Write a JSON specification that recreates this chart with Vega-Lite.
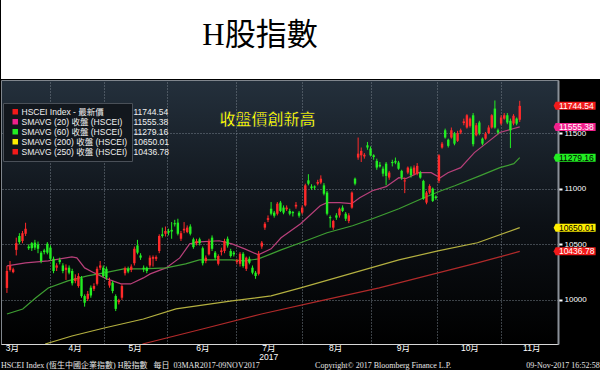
{
  "$schema": "https://vega.github.io/schema/vega-lite/v6.json",
  "background": "#000000",
  "padding": 0,
  "spacing": 0,
  "datasets": {
    "candles": [
      {"i":0,"o":10108,"c":10261,"h":10306,"l":10063},
      {"i":1,"o":10270,"c":10310,"h":10350,"l":10255},
      {"i":2,"o":10250,"c":10275,"h":10290,"l":10240},
      {"i":3,"o":10450,"c":10510,"h":10560,"l":10400},
      {"i":4,"o":10575,"c":10520,"h":10600,"l":10500},
      {"i":5,"o":10530,"c":10600,"h":10620,"l":10510},
      {"i":6,"o":10595,"c":10640,"h":10694,"l":10575},
      {"i":7,"o":10480,"c":10465,"h":10500,"l":10450},
      {"i":8,"o":10510,"c":10465,"h":10520,"l":10440},
      {"i":9,"o":10515,"c":10470,"h":10540,"l":10450},
      {"i":10,"o":10500,"c":10460,"h":10525,"l":10420},
      {"i":11,"o":10425,"c":10350,"h":10440,"l":10330},
      {"i":12,"o":10445,"c":10430,"h":10460,"l":10410},
      {"i":13,"o":10505,"c":10425,"h":10520,"l":10410},
      {"i":14,"o":10470,"c":10370,"h":10490,"l":10350},
      {"i":15,"o":10370,"c":10260,"h":10390,"l":10240},
      {"i":16,"o":10290,"c":10310,"h":10330,"l":10260},
      {"i":17,"o":10360,"c":10340,"h":10380,"l":10320},
      {"i":18,"o":10310,"c":10260,"h":10330,"l":10240},
      {"i":19,"o":10270,"c":10290,"h":10320,"l":10180},
      {"i":20,"o":10290,"c":10245,"h":10310,"l":10230},
      {"i":21,"o":10260,"c":10150,"h":10280,"l":10130},
      {"i":22,"o":10170,"c":10195,"h":10230,"l":10150},
      {"i":23,"o":10125,"c":10215,"h":10240,"l":10110},
      {"i":24,"o":10195,"c":10035,"h":10215,"l":10020},
      {"i":25,"o":10035,"c":9975,"h":10050,"l":9940},
      {"i":26,"o":10010,"c":10055,"h":10080,"l":9990},
      {"i":27,"o":10110,"c":10040,"h":10130,"l":10020},
      {"i":28,"o":10100,"c":10125,"h":10150,"l":10080},
      {"i":29,"o":10145,"c":10280,"h":10300,"l":10130},
      {"i":30,"o":10290,"c":10310,"h":10350,"l":10270},
      {"i":31,"o":10290,"c":10215,"h":10310,"l":10200},
      {"i":32,"o":10280,"c":10200,"h":10300,"l":10180},
      {"i":33,"o":10130,"c":10170,"h":10200,"l":10110},
      {"i":34,"o":10155,"c":10080,"h":10170,"l":10060},
      {"i":35,"o":10035,"c":9920,"h":10050,"l":9900},
      {"i":36,"o":9980,"c":9995,"h":10010,"l":9960},
      {"i":37,"o":10020,"c":10125,"h":10140,"l":10000},
      {"i":38,"o":10240,"c":10285,"h":10300,"l":10220},
      {"i":39,"o":10280,"c":10255,"h":10300,"l":10240},
      {"i":40,"o":10270,"c":10300,"h":10320,"l":10250},
      {"i":41,"o":10330,"c":10460,"h":10480,"l":10310},
      {"i":42,"o":10490,"c":10425,"h":10540,"l":10410},
      {"i":43,"o":10400,"c":10380,"h":10420,"l":10360},
      {"i":44,"o":10290,"c":10275,"h":10310,"l":10250},
      {"i":45,"o":10290,"c":10260,"h":10300,"l":10240},
      {"i":46,"o":10310,"c":10380,"h":10400,"l":10290},
      {"i":47,"o":10370,"c":10385,"h":10400,"l":10300},
      {"i":48,"o":10370,"c":10385,"h":10400,"l":10350},
      {"i":49,"o":10440,"c":10575,"h":10590,"l":10420},
      {"i":50,"o":10590,"c":10575,"h":10650,"l":10560},
      {"i":51,"o":10595,"c":10620,"h":10660,"l":10570},
      {"i":52,"o":10620,"c":10605,"h":10640,"l":10580},
      {"i":53,"o":10630,"c":10615,"h":10700,"l":10550},
      {"i":54,"o":10690,"c":10680,"h":10720,"l":10660},
      {"i":55,"o":10695,"c":10595,"h":10730,"l":10580},
      {"i":56,"o":10550,"c":10600,"h":10620,"l":10530},
      {"i":57,"o":10625,"c":10640,"h":10700,"l":10600},
      {"i":58,"o":10610,"c":10650,"h":10670,"l":10600},
      {"i":59,"o":10660,"c":10595,"h":10680,"l":10580},
      {"i":60,"o":10545,"c":10475,"h":10560,"l":10460},
      {"i":61,"o":10510,"c":10530,"h":10550,"l":10490},
      {"i":62,"o":10545,"c":10510,"h":10560,"l":10490},
      {"i":63,"o":10465,"c":10330,"h":10480,"l":10310},
      {"i":64,"o":10350,"c":10380,"h":10400,"l":10330},
      {"i":65,"o":10410,"c":10530,"h":10550,"l":10400},
      {"i":66,"o":10560,"c":10460,"h":10580,"l":10440},
      {"i":67,"o":10425,"c":10380,"h":10440,"l":10360},
      {"i":68,"o":10325,"c":10395,"h":10410,"l":10310},
      {"i":69,"o":10430,"c":10445,"h":10470,"l":10400},
      {"i":70,"o":10440,"c":10530,"h":10550,"l":10420},
      {"i":71,"o":10550,"c":10490,"h":10570,"l":10470},
      {"i":72,"o":10440,"c":10395,"h":10460,"l":10380},
      {"i":73,"o":10425,"c":10410,"h":10440,"l":10390},
      {"i":74,"o":10340,"c":10355,"h":10370,"l":10320},
      {"i":75,"o":10325,"c":10415,"h":10430,"l":10300},
      {"i":76,"o":10415,"c":10305,"h":10430,"l":10290},
      {"i":77,"o":10280,"c":10380,"h":10390,"l":10260},
      {"i":78,"o":10370,"c":10335,"h":10390,"l":10320},
      {"i":79,"o":10290,"c":10245,"h":10310,"l":10230},
      {"i":80,"o":10245,"c":10215,"h":10260,"l":10190},
      {"i":81,"o":10235,"c":10415,"h":10440,"l":10220},
      {"i":82,"o":10480,"c":10515,"h":10530,"l":10460},
      {"i":83,"o":10650,"c":10685,"h":10700,"l":10630},
      {"i":84,"o":10720,"c":10735,"h":10760,"l":10700},
      {"i":85,"o":10820,"c":10775,"h":10880,"l":10760},
      {"i":86,"o":10785,"c":10757,"h":10800,"l":10740},
      {"i":87,"o":10775,"c":10865,"h":10880,"l":10760},
      {"i":88,"o":10875,"c":10800,"h":10890,"l":10790},
      {"i":89,"o":10830,"c":10785,"h":10850,"l":10770},
      {"i":90,"o":10815,"c":10830,"h":10850,"l":10800},
      {"i":91,"o":10800,"c":10775,"h":10820,"l":10760},
      {"i":92,"o":10790,"c":10780,"h":10800,"l":10750},
      {"i":93,"o":10840,"c":10855,"h":10880,"l":10820},
      {"i":94,"o":10785,"c":10757,"h":10800,"l":10740},
      {"i":95,"o":10785,"c":10830,"h":10850,"l":10770},
      {"i":96,"o":10850,"c":11030,"h":11045,"l":10840},
      {"i":97,"o":11075,"c":11045,"h":11130,"l":11030},
      {"i":98,"o":11020,"c":11005,"h":11040,"l":10990},
      {"i":99,"o":11020,"c":11010,"h":11030,"l":10990},
      {"i":100,"o":11045,"c":11060,"h":11080,"l":11030},
      {"i":101,"o":11055,"c":11090,"h":11120,"l":11040},
      {"i":102,"o":11030,"c":10955,"h":11050,"l":10940},
      {"i":103,"o":10965,"c":10775,"h":10980,"l":10760},
      {"i":104,"o":10745,"c":10735,"h":10760,"l":10650},
      {"i":105,"o":10650,"c":10710,"h":10720,"l":10630},
      {"i":106,"o":10760,"c":10740,"h":10780,"l":10720},
      {"i":107,"o":10760,"c":10820,"h":10830,"l":10740},
      {"i":108,"o":10830,"c":10800,"h":10850,"l":10790},
      {"i":109,"o":10775,"c":10730,"h":10790,"l":10710},
      {"i":110,"o":10710,"c":10760,"h":10780,"l":10690},
      {"i":111,"o":10830,"c":10965,"h":10975,"l":10820},
      {"i":112,"o":11090,"c":11045,"h":11100,"l":11030},
      {"i":113,"o":11280,"c":11315,"h":11460,"l":11260},
      {"i":114,"o":11300,"c":11340,"h":11370,"l":11240},
      {"i":115,"o":11290,"c":11305,"h":11320,"l":11270},
      {"i":116,"o":11390,"c":11370,"h":11420,"l":11350},
      {"i":117,"o":11360,"c":11300,"h":11380,"l":11290},
      {"i":118,"o":11300,"c":11285,"h":11310,"l":11260},
      {"i":119,"o":11250,"c":11190,"h":11270,"l":11170},
      {"i":120,"o":11215,"c":11200,"h":11240,"l":11190},
      {"i":121,"o":11180,"c":11135,"h":11200,"l":11110},
      {"i":122,"o":11225,"c":11115,"h":11240,"l":11030},
      {"i":123,"o":11100,"c":11145,"h":11160,"l":11080},
      {"i":124,"o":11240,"c":11230,"h":11260,"l":11200},
      {"i":125,"o":11250,"c":11235,"h":11280,"l":11220},
      {"i":126,"o":11235,"c":11180,"h":11250,"l":11170},
      {"i":127,"o":11160,"c":11100,"h":11170,"l":11080},
      {"i":128,"o":11065,"c":11075,"h":11100,"l":10960},
      {"i":129,"o":11145,"c":11190,"h":11200,"l":11130},
      {"i":130,"o":11180,"c":11120,"h":11200,"l":11100},
      {"i":131,"o":11135,"c":11190,"h":11210,"l":11120},
      {"i":132,"o":11135,"c":11205,"h":11230,"l":11120},
      {"i":133,"o":11145,"c":11100,"h":11160,"l":11090},
      {"i":134,"o":11070,"c":10910,"h":11080,"l":10900},
      {"i":135,"o":10875,"c":10965,"h":10980,"l":10860},
      {"i":136,"o":10965,"c":11025,"h":11040,"l":10950},
      {"i":137,"o":11000,"c":10890,"h":11010,"l":10880},
      {"i":138,"o":10930,"c":10915,"h":10940,"l":10900},
      {"i":139,"o":11070,"c":11300,"h":11310,"l":11050},
      {"i":140,"o":11370,"c":11405,"h":11420,"l":11360},
      {"i":141,"o":11525,"c":11460,"h":11540,"l":11450},
      {"i":142,"o":11440,"c":11385,"h":11450,"l":11370},
      {"i":143,"o":11460,"c":11525,"h":11550,"l":11450},
      {"i":144,"o":11495,"c":11405,"h":11510,"l":11390},
      {"i":145,"o":11430,"c":11500,"h":11520,"l":11420},
      {"i":146,"o":11505,"c":11525,"h":11540,"l":11490},
      {"i":147,"o":11590,"c":11605,"h":11630,"l":11570},
      {"i":148,"o":11550,"c":11660,"h":11670,"l":11540},
      {"i":149,"o":11565,"c":11630,"h":11640,"l":11550},
      {"i":150,"o":11660,"c":11400,"h":11680,"l":11380},
      {"i":151,"o":11480,"c":11570,"h":11590,"l":11470},
      {"i":152,"o":11595,"c":11495,"h":11610,"l":11480},
      {"i":153,"o":11450,"c":11405,"h":11460,"l":11390},
      {"i":154,"o":11450,"c":11495,"h":11510,"l":11440},
      {"i":155,"o":11500,"c":11550,"h":11570,"l":11490},
      {"i":156,"o":11550,"c":11660,"h":11670,"l":11540},
      {"i":157,"o":11720,"c":11550,"h":11793,"l":11540},
      {"i":158,"o":11525,"c":11505,"h":11540,"l":11490},
      {"i":159,"o":11585,"c":11640,"h":11660,"l":11570},
      {"i":160,"o":11630,"c":11660,"h":11680,"l":11620},
      {"i":161,"o":11660,"c":11595,"h":11680,"l":11580},
      {"i":162,"o":11610,"c":11525,"h":11630,"l":11365},
      {"i":163,"o":11585,"c":11655,"h":11670,"l":11570},
      {"i":164,"o":11630,"c":11585,"h":11640,"l":11570},
      {"i":165,"o":11620,"c":11744.54,"h":11790,"l":11600}
    ],
    "ma": [
      {"s":"SMAVG (20) 收盤 (HSCEI)","i":0,"v":10306},
      {"s":"SMAVG (20) 收盤 (HSCEI)","i":6,"v":10333},
      {"s":"SMAVG (20) 收盤 (HSCEI)","i":13.3,"v":10351},
      {"s":"SMAVG (20) 收盤 (HSCEI)","i":20.9,"v":10387},
      {"s":"SMAVG (20) 收盤 (HSCEI)","i":22.5,"v":10378},
      {"s":"SMAVG (20) 收盤 (HSCEI)","i":25,"v":10288},
      {"s":"SMAVG (20) 收盤 (HSCEI)","i":28.1,"v":10243},
      {"s":"SMAVG (20) 收盤 (HSCEI)","i":32.2,"v":10189},
      {"s":"SMAVG (20) 收盤 (HSCEI)","i":36.7,"v":10144},
      {"s":"SMAVG (20) 收盤 (HSCEI)","i":39.8,"v":10144},
      {"s":"SMAVG (20) 收盤 (HSCEI)","i":43.9,"v":10198},
      {"s":"SMAVG (20) 收盤 (HSCEI)","i":46.1,"v":10234},
      {"s":"SMAVG (20) 收盤 (HSCEI)","i":51.2,"v":10288},
      {"s":"SMAVG (20) 收盤 (HSCEI)","i":55.6,"v":10378},
      {"s":"SMAVG (20) 收盤 (HSCEI)","i":58.8,"v":10504},
      {"s":"SMAVG (20) 收盤 (HSCEI)","i":61.9,"v":10522},
      {"s":"SMAVG (20) 收盤 (HSCEI)","i":68.3,"v":10532},
      {"s":"SMAVG (20) 收盤 (HSCEI)","i":72.4,"v":10504},
      {"s":"SMAVG (20) 收盤 (HSCEI)","i":76.5,"v":10459},
      {"s":"SMAVG (20) 收盤 (HSCEI)","i":80.9,"v":10405},
      {"s":"SMAVG (20) 收盤 (HSCEI)","i":85,"v":10459},
      {"s":"SMAVG (20) 收盤 (HSCEI)","i":88.2,"v":10559},
      {"s":"SMAVG (20) 收盤 (HSCEI)","i":94.5,"v":10685},
      {"s":"SMAVG (20) 收盤 (HSCEI)","i":100.8,"v":10847},
      {"s":"SMAVG (20) 收盤 (HSCEI)","i":103,"v":10874},
      {"s":"SMAVG (20) 收盤 (HSCEI)","i":107.1,"v":10874},
      {"s":"SMAVG (20) 收盤 (HSCEI)","i":110.9,"v":10865},
      {"s":"SMAVG (20) 收盤 (HSCEI)","i":113.5,"v":10919},
      {"s":"SMAVG (20) 收盤 (HSCEI)","i":117.6,"v":10982},
      {"s":"SMAVG (20) 收盤 (HSCEI)","i":122,"v":11018},
      {"s":"SMAVG (20) 收盤 (HSCEI)","i":126.1,"v":11099},
      {"s":"SMAVG (20) 收盤 (HSCEI)","i":128.3,"v":11090},
      {"s":"SMAVG (20) 收盤 (HSCEI)","i":132.4,"v":11144},
      {"s":"SMAVG (20) 收盤 (HSCEI)","i":136.5,"v":11144},
      {"s":"SMAVG (20) 收盤 (HSCEI)","i":139.4,"v":11099},
      {"s":"SMAVG (20) 收盤 (HSCEI)","i":141.9,"v":11144},
      {"s":"SMAVG (20) 收盤 (HSCEI)","i":146,"v":11189},
      {"s":"SMAVG (20) 收盤 (HSCEI)","i":150.4,"v":11324},
      {"s":"SMAVG (20) 收盤 (HSCEI)","i":154.5,"v":11414},
      {"s":"SMAVG (20) 收盤 (HSCEI)","i":158.6,"v":11505},
      {"s":"SMAVG (20) 收盤 (HSCEI)","i":163.1,"v":11541},
      {"s":"SMAVG (20) 收盤 (HSCEI)","i":165,"v":11555.38},
      {"s":"SMAVG (60) 收盤 (HSCEI)","i":0,"v":9874},
      {"s":"SMAVG (60) 收盤 (HSCEI)","i":5.1,"v":9919},
      {"s":"SMAVG (60) 收盤 (HSCEI)","i":9.2,"v":10018},
      {"s":"SMAVG (60) 收盤 (HSCEI)","i":13.3,"v":10108},
      {"s":"SMAVG (60) 收盤 (HSCEI)","i":19.6,"v":10171},
      {"s":"SMAVG (60) 收盤 (HSCEI)","i":25.9,"v":10216},
      {"s":"SMAVG (60) 收盤 (HSCEI)","i":31.3,"v":10243},
      {"s":"SMAVG (60) 收盤 (HSCEI)","i":37.6,"v":10279},
      {"s":"SMAVG (60) 收盤 (HSCEI)","i":43.9,"v":10279},
      {"s":"SMAVG (60) 收盤 (HSCEI)","i":51.2,"v":10288},
      {"s":"SMAVG (60) 收盤 (HSCEI)","i":57.5,"v":10324},
      {"s":"SMAVG (60) 收盤 (HSCEI)","i":61.9,"v":10360},
      {"s":"SMAVG (60) 收盤 (HSCEI)","i":72.4,"v":10360},
      {"s":"SMAVG (60) 收盤 (HSCEI)","i":76.5,"v":10351},
      {"s":"SMAVG (60) 收盤 (HSCEI)","i":80.9,"v":10369},
      {"s":"SMAVG (60) 收盤 (HSCEI)","i":85,"v":10414},
      {"s":"SMAVG (60) 收盤 (HSCEI)","i":88.2,"v":10450},
      {"s":"SMAVG (60) 收盤 (HSCEI)","i":94.5,"v":10514},
      {"s":"SMAVG (60) 收盤 (HSCEI)","i":103,"v":10604},
      {"s":"SMAVG (60) 收盤 (HSCEI)","i":111.2,"v":10667},
      {"s":"SMAVG (60) 收盤 (HSCEI)","i":117.6,"v":10730},
      {"s":"SMAVG (60) 收盤 (HSCEI)","i":126.1,"v":10820},
      {"s":"SMAVG (60) 收盤 (HSCEI)","i":133.4,"v":10910},
      {"s":"SMAVG (60) 收盤 (HSCEI)","i":139.7,"v":10982},
      {"s":"SMAVG (60) 收盤 (HSCEI)","i":144.1,"v":11027},
      {"s":"SMAVG (60) 收盤 (HSCEI)","i":152.3,"v":11117},
      {"s":"SMAVG (60) 收盤 (HSCEI)","i":158.6,"v":11189},
      {"s":"SMAVG (60) 收盤 (HSCEI)","i":163.1,"v":11225},
      {"s":"SMAVG (60) 收盤 (HSCEI)","i":165,"v":11279.16},
      {"s":"SMAVG (200) 收盤 (HSCEI)","i":12.3,"v":9604},
      {"s":"SMAVG (200) 收盤 (HSCEI)","i":20.9,"v":9676},
      {"s":"SMAVG (200) 收盤 (HSCEI)","i":31.3,"v":9748},
      {"s":"SMAVG (200) 收盤 (HSCEI)","i":43.9,"v":9829},
      {"s":"SMAVG (200) 收盤 (HSCEI)","i":54.4,"v":9919},
      {"s":"SMAVG (200) 收盤 (HSCEI)","i":72.4,"v":9991},
      {"s":"SMAVG (200) 收盤 (HSCEI)","i":85,"v":10036},
      {"s":"SMAVG (200) 收盤 (HSCEI)","i":94.5,"v":10108},
      {"s":"SMAVG (200) 收盤 (HSCEI)","i":110.3,"v":10234},
      {"s":"SMAVG (200) 收盤 (HSCEI)","i":126.1,"v":10360},
      {"s":"SMAVG (200) 收盤 (HSCEI)","i":138.7,"v":10441},
      {"s":"SMAVG (200) 收盤 (HSCEI)","i":151.4,"v":10514},
      {"s":"SMAVG (200) 收盤 (HSCEI)","i":165,"v":10650.01},
      {"s":"SMAVG (250) 收盤 (HSCEI)","i":43.6,"v":9604},
      {"s":"SMAVG (250) 收盤 (HSCEI)","i":62.9,"v":9739},
      {"s":"SMAVG (250) 收盤 (HSCEI)","i":81.9,"v":9874},
      {"s":"SMAVG (250) 收盤 (HSCEI)","i":100.8,"v":9991},
      {"s":"SMAVG (250) 收盤 (HSCEI)","i":119.8,"v":10108},
      {"s":"SMAVG (250) 收盤 (HSCEI)","i":138.7,"v":10243},
      {"s":"SMAVG (250) 收盤 (HSCEI)","i":151.4,"v":10333},
      {"s":"SMAVG (250) 收盤 (HSCEI)","i":165,"v":10436.78}
    ],
    "tags": [
      {"s":"HSCEI Index - 最新價","label":"11744.54","v":11744.54},
      {"s":"SMAVG (20) 收盤 (HSCEI)","label":"11555.38","v":11555.38},
      {"s":"SMAVG (60) 收盤 (HSCEI)","label":"11279.16","v":11279.16},
      {"s":"SMAVG (200) 收盤 (HSCEI)","label":"10650.01","v":10650.01},
      {"s":"SMAVG (250) 收盤 (HSCEI)","label":"10436.78","v":10436.78}
    ]
  },
  "vconcat": [
    {
      "width": 600,
      "height": 79,
      "view": {"fill": "#ffffff", "stroke": null},
      "data": {"values": [{"t": "H股指數"}]},
      "mark": {"type": "text", "font": "Liberation Serif, Noto Sans CJK TC", "fontSize": 31, "color": "#000000", "baseline": "middle", "dx": -41, "dy": -4},
      "encoding": {"text": {"field": "t"}}
    },
    {
      "width": 557,
      "height": 264,
      "view": {
        "fill": {"gradient": "linear", "x1": 0, "y1": 0, "x2": 0, "y2": 1,
          "stops": [{"offset": 0, "color": "#24303c"}, {"offset": 0.55, "color": "#0c1015"}, {"offset": 1, "color": "#000000"}]},
        "stroke": "#80868d",
        "strokeWidth": 1
      },
      "resolve": {"axis": {"x": "independent", "y": "independent"}},
      "layer": [
        {
          "data": {"name": "ma"},
          "mark": {"type": "line", "strokeWidth": 1.2, "clip": true},
          "encoding": {
            "x": {"field": "i", "type": "quantitative", "scale": {"domain": [-0.3, 175.7], "nice": false, "zero": false},
              "axis": {"orient": "top", "values": [13.9, 31.3, 51.5, 73.6, 95.1, 117.2, 138.4, 158.9], "grid": true, "labels": false, "ticks": false, "domain": false, "title": null, "gridColor": "#77818b", "gridDash": [1, 2], "gridWidth": 1}},
            "y": {"field": "v", "type": "quantitative", "scale": {"domain": [9604, 11977], "nice": false, "zero": false},
              "axis": {"orient": "right", "values": [10000, 10500, 11000, 11500], "format": "d", "grid": true, "gridColor": "#77818b", "gridDash": [1, 2], "gridWidth": 1, "domainColor": "#8a9098", "domainWidth": 2, "tickColor": "#ffffff", "tickSize": 4, "tickWidth": 2, "labelColor": "#ffffff", "labelFont": "Liberation Sans", "labelFontSize": 8, "labelPadding": 2, "title": null}},
            "stroke": {"field": "s", "type": "nominal",
              "scale": {"domain": ["SMAVG (20) 收盤 (HSCEI)", "SMAVG (60) 收盤 (HSCEI)", "SMAVG (200) 收盤 (HSCEI)", "SMAVG (250) 收盤 (HSCEI)"], "range": ["#b8407a", "#3e9e32", "#b4b040", "#b02a2a"]},
              "legend": null}
          }
        },
        {
          "data": {"name": "candles"},
          "mark": {"type": "rule", "strokeWidth": 1, "clip": true},
          "encoding": {
            "x": {"field": "i", "type": "quantitative", "axis": null},
            "y": {"field": "l", "type": "quantitative", "axis": null},
            "y2": {"field": "h"},
            "color": {"condition": {"test": "datum.c >= datum.o", "value": "#ff2a2a"}, "value": "#22ee22"}
          }
        },
        {
          "data": {"name": "candles"},
          "mark": {"type": "bar", "size": 2.4, "clip": true},
          "encoding": {
            "x": {"field": "i", "type": "quantitative",
              "axis": {"orient": "bottom", "values": [1.6, 21.8, 41.1, 62.9, 84.1, 105.6, 127.4, 148.8, 168.7],
                "labelExpr": "datum.value < 10 ? '3月' : datum.value < 30 ? '4月' : datum.value < 50 ? '5月' : datum.value < 70 ? '6月' : datum.value < 90 ? ['7月', '\u00a0\u00a0\u00a0\u00a0\u00a0\u00a0\u00a0\u00a0\u00a0\u00a02017'] : datum.value < 115 ? '8月' : datum.value < 135 ? '9月' : datum.value < 160 ? '10月' : '11月'",
                "ticks": false, "grid": false, "domainColor": "#d8d8d8", "domainWidth": 1, "labelColor": "#ffffff", "labelFont": "Liberation Sans, Noto Sans CJK TC", "labelFontSize": 8.5, "labelPadding": -1, "labelLineHeight": 9.5, "labelOverlap": false, "labelFlush": false, "labelBound": false, "title": null}},
            "y": {"field": "o", "type": "quantitative", "axis": null},
            "y2": {"field": "c"},
            "color": {"condition": {"test": "datum.c >= datum.o", "value": "#ff2a2a"}, "value": "#22ee22"}
          }
        },
        {
          "data": {"values": [{"t": "收盤價創新高", "i": 83.8, "v": 11613}]},
          "mark": {"type": "text", "font": "Noto Sans CJK TC", "fontWeight": "bold", "fontSize": 16, "color": "#ffff00", "stroke": "#10205a", "strokeWidth": 0.6, "baseline": "middle", "align": "center"},
          "encoding": {
            "x": {"field": "i", "type": "quantitative", "axis": null},
            "y": {"field": "v", "type": "quantitative", "axis": null},
            "text": {"field": "t"}
          }
        },
        {
          "data": {"name": "tags"},
          "mark": {"type": "point", "filled": true, "size": 1600, "opacity": 1, "strokeWidth": 0},
          "encoding": {
            "x": {"datum": 182.97, "type": "quantitative", "axis": null},
            "y": {"field": "v", "type": "quantitative", "axis": null},
            "fill": {"field": "s", "type": "nominal",
              "scale": {"domain": ["HSCEI Index - 最新價", "SMAVG (20) 收盤 (HSCEI)", "SMAVG (60) 收盤 (HSCEI)", "SMAVG (200) 收盤 (HSCEI)", "SMAVG (250) 收盤 (HSCEI)"], "range": ["#f21a1a", "#f0208c", "#22ee22", "#ffee00", "#f21a1a"]},
              "legend": {"orient": "none", "legendX": 2, "legendY": 103, "title": null, "symbolType": "square", "symbolSize": 30, "symbolOffset": 4, "symbolStrokeWidth": 0, "labelFont": "Liberation Sans, Noto Sans CJK TC", "labelFontSize": 8.5, "labelColor": "#f0f0f0", "labelOffset": 2, "labelLimit": 400, "padding": 4, "fillColor": "#12171d", "strokeColor": "#4a5058", "rowPadding": 0, "clipHeight": 9.3,
                "labelExpr": "datum.label + '\u00a0\u00a0\u00a0\u00a0\u00a0\u00a0\u00a0\u00a0\u00a0\u00a0\u00a0\u00a0\u00a0\u00a0\u00a0\u00a0'"}},
            "shape": {"field": "label", "type": "nominal",
              "scale": {"domain": ["11744.54", "11555.38", "11279.16", "10650.01", "10436.78"],
                "range": ["M-1.1,0L-1,-0.2L1,-0.2L1,0.2L-1,0.2Z", "M-1.1,0L-1,-0.2L1,-0.2L1,0.2L-1,0.2Z", "M-1.1,0L-1,-0.2L1,-0.2L1,0.2L-1,0.2Z", "M-1.1,0L-1,-0.2L1,-0.2L1,0.2L-1,0.2Z", "M-1.1,0L-1,-0.2L1,-0.2L1,0.2L-1,0.2Z"]},
              "legend": {"orient": "none", "legendX": 120, "legendY": 103, "title": null, "symbolOpacity": 0, "symbolSize": 0, "symbolStrokeWidth": 0, "labelOffset": 0, "padding": 4, "rowPadding": 0, "clipHeight": 9.3, "labelFont": "Liberation Sans", "labelFontSize": 8.5, "labelColor": "#f0f0f0"}}
          }
        },
        {
          "data": {"name": "tags"},
          "mark": {"type": "text", "align": "left", "baseline": "middle", "font": "Liberation Sans", "fontSize": 8.5},
          "encoding": {
            "x": {"datum": 177.6, "type": "quantitative", "axis": null},
            "y": {"field": "v", "type": "quantitative", "axis": null},
            "text": {"field": "label"},
            "color": {"field": "s", "type": "nominal",
              "scale": {"domain": ["HSCEI Index - 最新價", "SMAVG (20) 收盤 (HSCEI)", "SMAVG (60) 收盤 (HSCEI)", "SMAVG (200) 收盤 (HSCEI)", "SMAVG (250) 收盤 (HSCEI)"], "range": ["#ffffff", "#ffffff", "#000000", "#000000", "#ffffff"]},
              "legend": null}
          }
        }
      ]
    },
    {
      "width": 600,
      "height": 6,
      "view": {"stroke": null},
      "layer": [
        {
          "data": {"values": [{"t": "HSCEI Index (恆生中國企業指數) H股指數\u00a0\u00a0\u00a0每日\u00a0\u00a003MAR2017-09NOV2017", "p": 0}]},
          "mark": {"type": "text", "align": "left", "baseline": "middle", "font": "Liberation Serif, Noto Sans CJK TC", "fontSize": 8, "color": "#e6e6e6"},
          "encoding": {"x": {"field": "p", "type": "quantitative", "scale": {"domain": [0, 1]}, "axis": null}, "text": {"field": "t"}}
        },
        {
          "data": {"values": [{"t": "Copyright© 2017 Bloomberg Finance L.P.", "p": 0.637}]},
          "mark": {"type": "text", "align": "center", "baseline": "middle", "font": "Liberation Serif", "fontSize": 8, "color": "#e6e6e6"},
          "encoding": {"x": {"field": "p", "type": "quantitative", "axis": null}, "text": {"field": "t"}}
        },
        {
          "data": {"values": [{"t": "09-Nov-2017 16:52:58", "p": 0.998}]},
          "mark": {"type": "text", "align": "right", "baseline": "middle", "font": "Liberation Serif", "fontSize": 8, "color": "#e6e6e6"},
          "encoding": {"x": {"field": "p", "type": "quantitative", "axis": null}, "text": {"field": "t"}}
        }
      ]
    }
  ]
}
